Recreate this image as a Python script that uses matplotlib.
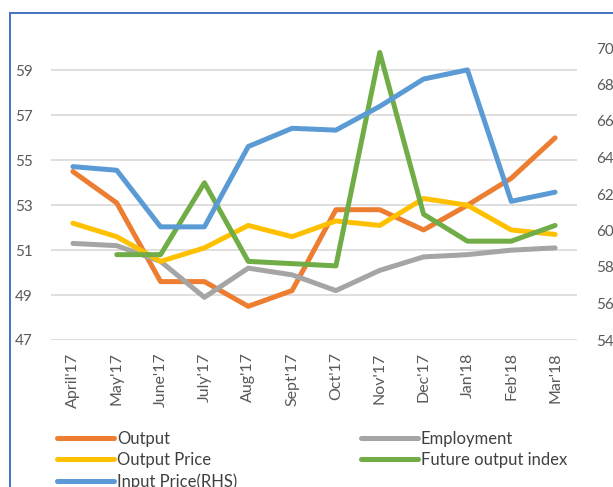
import numpy as np
import matplotlib
matplotlib.use("Agg")
import matplotlib.pyplot as plt
from matplotlib.patches import Rectangle

plt.rcParams['font.family'] = ['Lato', 'DejaVu Sans']

months = ["April'17", "May'17", "June'17", "July'17", "Aug'17", "Sept'17",
          "Oct'17", "Nov'17", "Dec'17", "Jan'18", "Feb'18", "Mar'18"]

output = [54.5, 53.1, 49.6, 49.6, 48.5, 49.2, 52.8, 52.8, 51.9, 53.0, 54.2, 56.0]
employment = [51.3, 51.2, 50.5, 48.9, 50.2, 49.9, 49.2, 50.1, 50.7, 50.8, 51.0, 51.1]
output_price = [52.2, 51.6, 50.5, 51.1, 52.1, 51.6, 52.3, 52.1, 53.3, 53.0, 51.9, 51.7]
future_output = [np.nan, 50.8, 50.8, 54.0, 50.5, 50.4, 50.3, 59.8, 52.6, 51.4, 51.4, 52.1]
input_price = [63.5, 63.3, 60.2, 60.2, 64.6, 65.6, 65.5, 66.8, 68.3, 68.8, 61.6, 62.1]

left_ticks = [47, 49, 51, 53, 55, 57, 59]
right_ticks = [54, 56, 58, 60, 62, 64, 66, 68, 70]

c_output = "#ED7D31"
c_emp = "#A5A5A5"
c_oprice = "#FFC000"
c_future = "#70AD47"
c_input = "#5B9BD5"
txt = "#595959"

W, H = 613, 487
fig = plt.figure(figsize=(W / 100, H / 100), dpi=100)
fig.patch.set_facecolor("white")

# plot area in pixels: x 51..577, y 48..340 (from top)
ax = fig.add_axes([51 / W, 1 - 340 / H, (577 - 51) / W, (340 - 48) / H])
ax2 = ax.twinx()

x = np.arange(len(months))
style = dict(lw=3.6, solid_joinstyle="round", solid_capstyle="round")

h1, = ax.plot(x, output, color=c_output, label="Output", **style)
h2, = ax.plot(x, employment, color=c_emp, label="Employment", **style)
h3, = ax.plot(x, output_price, color=c_oprice, label="Output Price", **style)
h4, = ax.plot(x, future_output, color=c_future, label="Future output index", **style)
h5, = ax2.plot(x, input_price, color=c_input, label="Input Price(RHS)", **style)

ax.set_xlim(-0.5, len(months) - 0.5)
ax.set_ylim(47, 60)
ax2.set_ylim(54, 70)

ax.set_yticks(left_ticks)
ax2.set_yticks(right_ticks)
ax.set_xticks(x)
ax.set_xticklabels(months, rotation=90, fontsize=11.5, color=txt)

ax.yaxis.grid(True, color="#D9D9D9", lw=1.2)
ax.set_axisbelow(True)

for a in (ax, ax2):
    for s in a.spines.values():
        s.set_visible(False)
    a.tick_params(axis="y", length=0, labelsize=11, labelcolor=txt)
ax.tick_params(axis="x", length=0, pad=9)
ax.tick_params(axis="y", pad=13)
ax2.tick_params(axis="y", pad=14)

leg_kw = dict(frameon=False, fontsize=12, handlelength=3.4, handletextpad=0.2,
              labelspacing=0.3, borderaxespad=0, borderpad=0, labelcolor="#404040")
fig.legend(handles=[h1, h3, h5], loc="upper left",
           bbox_to_anchor=(57 / W, 1 - 431 / H), **leg_kw)
fig.legend(handles=[h2, h4], loc="upper left",
           bbox_to_anchor=(361 / W, 1 - 431 / H), **leg_kw)

# chart frame
fig.patches.append(Rectangle((9.5 / W, -0.2), 1.5, 1.2 - 13 / H, transform=fig.transFigure,
                             fill=False, edgecolor="#4472C4", lw=1.4))

fig.savefig("out.png", dpi=100)
